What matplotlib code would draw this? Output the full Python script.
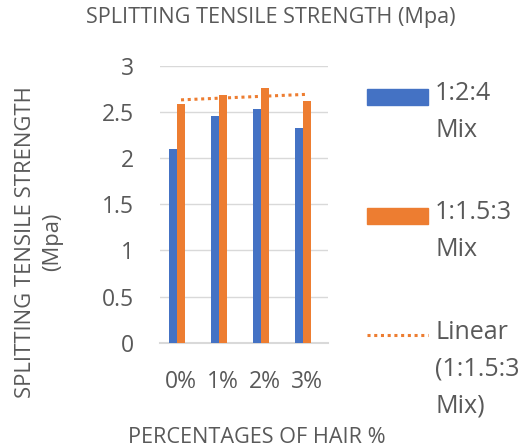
import matplotlib
matplotlib.use("Agg")
import matplotlib.pyplot as plt
import numpy as np
from matplotlib.patches import Rectangle
from matplotlib.lines import Line2D

# Data
categories = ["0%", "1%", "2%", "3%"]
mix_124 = [2.10, 2.46, 2.53, 2.32]
mix_1153 = [2.58, 2.68, 2.76, 2.62]
y_ticks = [0, 0.5, 1, 1.5, 2, 2.5, 3]
y_tick_labels = ["0", "0.5", "1", "1.5", "2", "2.5", "3"]

BLUE = "#4472C4"
ORANGE = "#ED7D31"
TEXT = "#595959"
GRID = "#D9D9D9"

plt.rcParams["font.family"] = ["Open Sans", "DejaVu Sans"]

W, H = 525, 448
fig = plt.figure(figsize=(W / 100, H / 100), dpi=100)


def fx(px):
    return px / W


def fy(py):
    return 1 - py / H


ax = fig.add_axes([fx(160), fy(342.7), fx(328) - fx(160), fy(65.7) - fy(342.7)])

x = np.arange(len(categories))
width = 0.19
ax.bar(x - 0.20, mix_124, width, color=BLUE, zorder=3)
ax.bar(x + 0.01, mix_1153, width, color=ORANGE, zorder=3)

# Linear trendline through the 1:1.5:3 series
slope, intercept = np.polyfit(x, mix_1153, 1)
ax.plot(x, slope * x + intercept, linestyle=(0, (1, 1.2)), color=ORANGE,
        linewidth=2.2, zorder=4)

ax.set_xlim(-0.5, 3.5)
ax.set_ylim(0, 3)
ax.set_yticks(y_ticks)
ax.set_yticklabels(y_tick_labels)
ax.set_xticks(x)
ax.set_xticklabels(categories)
ax.tick_params(axis="both", length=0, labelsize=16.5, colors=TEXT)
ax.tick_params(axis="y", pad=19)
ax.tick_params(axis="x", pad=19.5)
ax.grid(axis="y", color=GRID, linewidth=1, zorder=0)
for s in ["top", "right", "left"]:
    ax.spines[s].set_visible(False)
ax.spines["bottom"].set_color(GRID)
ax.spines["bottom"].set_linewidth(1.5)

fig.text(fx(271), fy(18), "SPLITTING TENSILE STRENGTH (Mpa)", ha="center",
         va="center", fontsize=15.6, color=TEXT)
fig.text(fx(257), fy(437), "PERCENTAGES OF HAIR %", ha="center",
         va="center", fontsize=15.6, color=TEXT)
fig.text(fx(39), fy(242), "SPLITTING TENSILE STRENGTH\n(Mpa)", ha="center",
         va="center", rotation=90, fontsize=15.8, color=TEXT, linespacing=1.4,
         multialignment="center")

# Legend entries
fig.add_artist(Rectangle((fx(367), fy(105)), fx(428) - fx(367), fy(89) - fy(105),
                         transform=fig.transFigure, color=BLUE))
fig.add_artist(Rectangle((fx(367), fy(224)), fx(428) - fx(367), fy(208) - fy(224),
                         transform=fig.transFigure, color=ORANGE))
fig.add_artist(Line2D([fx(367), fx(428)], [fy(335), fy(335)], transform=fig.transFigure,
                      color=ORANGE, linestyle=(0, (1, 1.2)), linewidth=2.2))
legend_texts = [("1:2:4\nMix", 95), ("1:1.5:3\nMix", 214), ("Linear\n(1:1.5:3\nMix)", 334)]
for txt, ycen in legend_texts:
    fig.text(fx(435), fy(ycen - 14), txt, ha="left", va="top", fontsize=18,
             color=TEXT, linespacing=1.62)

fig.savefig("out.png", dpi=100)
